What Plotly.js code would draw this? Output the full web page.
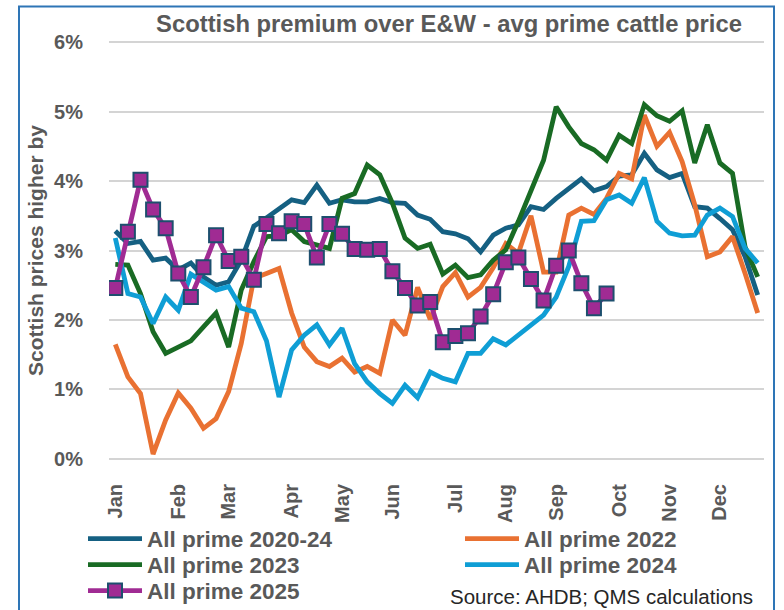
<!DOCTYPE html>
<html>
<head>
<meta charset="utf-8">
<script src="https://cdn.plot.ly/plotly-3.0.1.min.js"></script>
<style>
  html, body { margin: 0; padding: 0; background: #ffffff; }
  #chart { width: 784px; height: 610px; }
</style>
</head>
<body>
<div id="chart"></div>
<script>
// ---- data (values in %) ----
const weeks = [1,2,3,4,5,6,7,8,9,10,11,12,13,14,15,16,17,18,19,20,21,22,23,24,25,26,
               27,28,29,30,31,32,33,34,35,36,37,38,39,40,41,42,43,44,45,46,47,48,49,50,51,52];
const monthTickWeeks = [1, 6, 10, 15, 19, 23, 28, 32, 36, 41, 45, 49];
const monthLabels = ["Jan","Feb","Mar","Apr","May","Jun","Jul","Aug","Sep","Oct","Nov","Dec"];
const yTickVals = [0, 1, 2, 3, 4, 5, 6];
const yTickLabels = ["0%","1%","2%","3%","4%","5%","6%"];

const prime2020_24 = [3.28,3.10,3.13,2.86,2.89,2.72,2.82,2.62,2.50,2.55,2.86,3.35,3.47,3.59,3.73,3.69,3.94,3.68,3.73,3.70,3.70,3.75,3.69,3.68,3.51,3.45,
                      3.27,3.24,3.17,2.98,3.22,3.32,3.37,3.63,3.59,3.75,3.90,4.03,3.86,3.92,4.07,4.09,4.40,4.16,4.05,4.11,3.63,3.61,3.46,3.30,2.91,2.36];
const prime2022 = [1.65,1.18,0.94,0.07,0.56,0.95,0.73,0.44,0.58,0.97,1.66,2.60,2.67,2.74,2.10,1.61,1.40,1.33,1.45,1.25,1.33,1.23,2.00,1.78,2.47,2.01,
                   2.48,2.68,2.33,2.47,2.75,3.10,2.96,3.50,2.69,2.69,3.51,3.61,3.52,3.75,4.11,4.03,4.95,4.50,4.70,4.28,3.66,2.91,2.98,3.20,2.67,2.10];
const prime2023 = [2.80,2.79,2.38,1.83,1.52,1.61,1.70,1.90,2.10,1.61,2.43,2.84,3.20,3.21,3.30,3.13,3.08,3.03,3.75,3.82,4.23,4.09,3.68,3.18,3.03,3.09,
                   2.66,2.79,2.61,2.65,2.86,3.01,3.42,3.87,4.30,5.07,4.78,4.54,4.45,4.30,4.66,4.54,5.10,4.94,4.86,5.01,4.26,4.81,4.26,4.11,3.05,2.62];
const prime2024 = [3.18,2.38,2.33,1.95,2.33,2.14,2.66,2.55,2.43,2.48,2.17,2.12,1.70,0.89,1.57,1.78,1.93,1.64,1.88,1.37,1.11,0.94,0.80,1.06,0.88,1.25,
                   1.16,1.11,1.52,1.52,1.73,1.64,1.78,1.93,2.07,2.33,2.77,3.42,3.43,3.73,3.80,3.68,4.05,3.42,3.25,3.21,3.22,3.51,3.61,3.49,3.03,2.82];
const prime2025 = [2.46,3.27,4.02,3.59,3.32,2.67,2.33,2.76,3.22,2.85,2.91,2.58,3.38,3.25,3.42,3.38,2.90,3.38,3.24,3.02,3.01,3.02,2.70,2.46,2.21,2.26,
                   1.68,1.77,1.81,2.05,2.37,2.83,2.90,2.59,2.28,2.78,3.00,2.53,2.17,2.38];

const seriesNames = ["All prime 2020-24","All prime 2022","All prime 2023","All prime 2024","All prime 2025"];
const seriesColors = ["#156082","#E97132","#196B24","#0F9ED5","#A02B93"];

// ---- layout geometry helpers (pixel -> paper) ----
const W = 784, H = 610;
const ML = 109, MR = 20, MT = 40.4, MB = 148.9;
const PW = W - ML - MR, PH = H - MT - MB;
const px = v => (v - ML) / PW;
const py = v => (H - MB - v) / PH;

const FONT = "Liberation Sans, Arial, sans-serif";
const GREY = "#595959";

function lineTrace(x, y, i, legendId) {
  return {
    type: "scatter", mode: "lines", x: x, y: y, name: seriesNames[i],
    line: { color: seriesColors[i], width: 4.8 },
    legend: legendId
  };
}

const traces = [
  lineTrace(weeks, prime2020_24, 0, "legend"),
  lineTrace(weeks, prime2022, 1, "legend2"),
  lineTrace(weeks, prime2023, 2, "legend3"),
  lineTrace(weeks, prime2024, 3, "legend4"),
  {
    type: "scatter", mode: "lines+markers", x: weeks.slice(0, prime2025.length), y: prime2025,
    name: seriesNames[4], legend: "legend5",
    line: { color: seriesColors[4], width: 4.8 },
    marker: { symbol: "square", size: 14, color: seriesColors[4], line: { color: "#1d4f6e", width: 2 } }
  }
];

function legendAt(xpx, ypx) {
  return {
    x: px(xpx), y: py(ypx), xanchor: "left", yanchor: "middle",
    orientation: "v", bgcolor: "rgba(0,0,0,0)", borderwidth: 0,
    itemwidth: 54, font: { family: FONT, size: 22.5, color: GREY, weight: "bold" }
  };
}

const layout = {
  width: W, height: H,
  margin: { l: ML, r: MR, t: MT, b: MB, autoexpand: false },
  paper_bgcolor: "#ffffff", plot_bgcolor: "#ffffff",
  showlegend: true,
  title: {
    text: "Scottish premium over E&W - avg prime cattle price",
    font: { family: FONT, size: 23.8, color: GREY, weight: "bold" },
    x: 449 / W, xref: "container", xanchor: "center",
    y: 1 - 24 / H, yref: "container", yanchor: "middle"
  },
  xaxis: {
    range: [0.5, 52.5], tickmode: "array", tickvals: monthTickWeeks, ticktext: monthLabels,
    tickangle: -90, ticks: "outside", ticklen: 14, tickcolor: "rgba(0,0,0,0)",
    showgrid: false, zeroline: false, showline: false,
    tickfont: { family: FONT, size: 20, color: GREY, weight: "bold" }
  },
  yaxis: {
    range: [-0.03, 6.03], tickmode: "array", tickvals: yTickVals, ticktext: yTickLabels,
    ticks: "outside", ticklen: 21, tickcolor: "rgba(0,0,0,0)",
    showgrid: true, gridcolor: "#d4d4d4", gridwidth: 2, zeroline: false, showline: false,
    tickfont: { family: FONT, size: 20, color: GREY, weight: "bold" },
    title: { text: "Scottish prices higher by", standoff: 4,
             font: { family: FONT, size: 21, color: GREY, weight: "bold" } }
  },
  legend: legendAt(83, 539),
  legend2: legendAt(460, 539),
  legend3: legendAt(83, 565),
  legend4: legendAt(460, 565),
  legend5: legendAt(83, 591),
  annotations: [{
    text: "Source: AHDB; QMS calculations", xref: "paper", yref: "paper",
    x: px(755), y: py(597), xanchor: "right", yanchor: "middle", showarrow: false,
    font: { family: FONT, size: 20.5, color: "#262626" }
  }],
  shapes: [{
    type: "rect", xref: "paper", yref: "paper", layer: "above",
    x0: px(19), x1: px(774), y0: py(614), y1: py(7),
    line: { color: "#2E75B6", width: 2 }, fillcolor: "rgba(0,0,0,0)"
  }]
};

Plotly.newPlot("chart", traces, layout, { displayModeBar: false, staticPlot: true });
</script>
</body>
</html>
